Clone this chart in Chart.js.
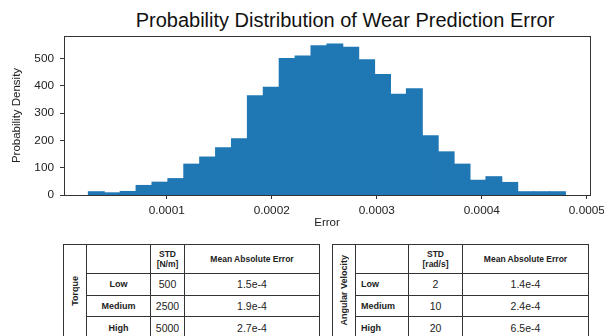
<!DOCTYPE html>
<html>
<head>
<meta charset="utf-8">
<script src="https://cdn.jsdelivr.net/npm/chart.js@4.4.1/dist/chart.umd.min.js"></script>
<style>
  body { margin: 0; width: 604px; height: 336px; overflow: hidden; position: relative; background: #fff;
         font-family: "Liberation Sans", Arial, sans-serif; }
  #title { position: absolute; left: 0; top: 10px; width: 604px; padding-left: 86px; box-sizing: border-box;
           text-align: center; font-size: 20px; line-height: 20px; color: #111; }
  #wrap { position: absolute; left: 0; top: 0; width: 620px; height: 231px; }
  table { position: absolute; top: 244px; border-collapse: collapse; table-layout: fixed; color: #222; background: #fff; }
  td { border: 1px solid #333; padding: 0; text-align: center; font-size: 10.5px; height: 20.7px; }
  td.hd { font-weight: bold; font-size: 8.5px; line-height: 10px; height: 28px; }
  td.lab { font-weight: bold; font-size: 9px; }
  #tblR td.lab { text-align: left; padding-left: 5px; }
  td.side { font-weight: bold; font-size: 9px; }
  td.side span { writing-mode: vertical-rl; transform: rotate(180deg); display: inline-block; }
</style>
</head>
<body>
<div id="title">Probability Distribution of Wear Prediction Error</div>
<div id="wrap"><canvas id="histChart"></canvas></div>
<table id="tblL"></table>
<table id="tblR"></table>
<script>
// histogram bins (Error) and their density heights
const binStart = 0.0000254;
const binWidth = 0.00001514;
const density = [12, 8, 13, 35, 47, 60, 113, 139, 173, 206, 363, 394, 500, 509, 546,
                 553, 541, 495, 441, 369, 389, 217, 158, 113, 54, 67, 46, 12, 12, 12];
const xTicks = [0.0001, 0.0002, 0.0003, 0.0004, 0.0005];
const xTickLabels = ["0.0001", "0.0002", "0.0003", "0.0004", "0.0005"];
const yTicks = [0, 100, 200, 300, 400, 500];

// tables
const levels = ["Low", "Medium", "High"];
const torqueStd = ["500", "2500", "5000"];
const torqueMae = ["1.5e-4", "1.9e-4", "2.7e-4"];
const velStd = ["2", "10", "20"];
const velMae = ["1.4e-4", "2.4e-4", "6.5e-4"];

const points = density.map((d, i) => ({ x: binStart + binWidth * (i + 0.5), y: d }));

const frame = {
  id: "frame",
  afterDraw(chart) {
    const { ctx, chartArea: a } = chart;
    ctx.save();
    ctx.strokeStyle = "#333";
    ctx.lineWidth = 1;
    ctx.strokeRect(Math.round(a.left) + 0.5, Math.round(a.top) + 0.5,
                   Math.round(a.right - a.left), Math.round(a.bottom - a.top));
    ctx.restore();
  }
};

new Chart(document.getElementById("histChart"), {
  type: "bar",
  data: {
    datasets: [{
      data: points,
      backgroundColor: "#1f77b4",
      borderWidth: 0,
      inflateAmount: 0.5,
      barPercentage: 1,
      categoryPercentage: 1
    }]
  },
  options: {
    responsive: true,
    maintainAspectRatio: false,
    animation: false,
    layout: { padding: { top: 36, right: 30, left: 0, bottom: 0 } },
    plugins: { legend: { display: false }, tooltip: { enabled: false } },
    scales: {
      x: {
        type: "linear",
        offset: false,
        min: 0.0000022,
        max: 0.000503,
        afterBuildTicks: (s) => { s.ticks = xTicks.map((v) => ({ value: v })); },
        afterFit: (s) => { s.height = 36; },
        ticks: {
          color: "#222",
          font: { family: "Liberation Sans", size: 11.8 },
          padding: 5,
          maxRotation: 0,
          callback: (v) => xTickLabels[xTicks.indexOf(v)]
        },
        grid: { display: true, drawOnChartArea: false, offset: false, tickLength: 4, tickColor: "#333" },
        border: { display: false },
        title: { display: true, text: "Error", color: "#222",
                 font: { family: "Liberation Sans", size: 11.5 }, padding: { top: 0, bottom: 1 } }
      },
      y: {
        min: 0,
        max: 582,
        afterBuildTicks: (s) => { s.ticks = yTicks.map((v) => ({ value: v })); },
        afterFit: (s) => { s.width = 64; },
        ticks: { color: "#222", font: { family: "Liberation Sans", size: 11.8 }, padding: 6 },
        grid: { display: true, drawOnChartArea: false, tickLength: 4, tickColor: "#333" },
        border: { display: false },
        title: { display: true, text: "Probability Density", color: "#222",
                 font: { family: "Liberation Sans", size: 11.5 }, padding: { top: 10, bottom: 0 } }
      }
    }
  },
  plugins: [frame]
});

function buildTable(id, left, widths, side, unit, std, mae) {
  const t = document.getElementById(id);
  t.style.left = left + "px";
  t.style.width = widths.reduce((a, b) => a + b, 0) + "px";
  let html = "<colgroup>" + widths.map((w) => `<col style="width:${w}px">`).join("") + "</colgroup>";
  html += `<tr><td class="side" rowspan="4"><span>${side}</span></td><td class="hd"></td>` +
          `<td class="hd">STD<br>${unit}</td><td class="hd">Mean Absolute Error</td></tr>`;
  levels.forEach((lv, i) => {
    html += `<tr><td class="lab">${lv}</td><td>${std[i]}</td><td>${mae[i]}</td></tr>`;
  });
  t.innerHTML = html;
}
buildTable("tblL", 63, [23, 64, 34, 135], "Torque", "[N/m]", torqueStd, torqueMae);
buildTable("tblR", 332, [23, 53, 54, 126], "Angular Velocity", "[rad/s]", velStd, velMae);
</script>
</body>
</html>
